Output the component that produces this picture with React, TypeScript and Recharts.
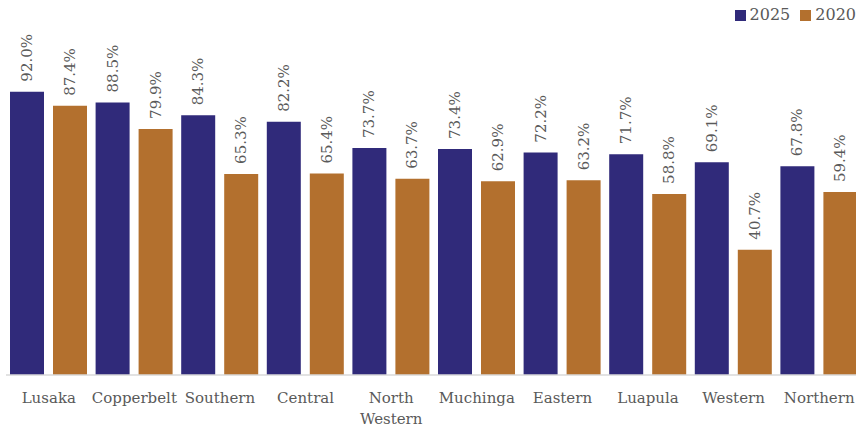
import { BarChart, Bar, XAxis, YAxis, Legend, LabelList } from 'recharts'

const provinces = ['Lusaka', 'Copperbelt', 'Southern', 'Central', 'North Western', 'Muchinga', 'Eastern', 'Luapula', 'Western', 'Northern']
const rate2025 = [92.0, 88.5, 84.3, 82.2, 73.7, 73.4, 72.2, 71.7, 69.1, 67.8]
const rate2020 = [87.4, 79.9, 65.3, 65.4, 63.7, 62.9, 63.2, 58.8, 40.7, 59.4]

const data = provinces.map((name, i) => ({ name, y2025: rate2025[i], y2020: rate2020[i] }))

const FONT = '"DejaVu Serif", serif'
const GREY = '#595959'

const renderValue = (props: any) => {
  const { x, y, width, value } = props
  const cx = x + width / 2
  const cy = y - 10
  return (
    <text
      x={cx}
      y={cy}
      transform={`rotate(-90, ${cx}, ${cy})`}
      textAnchor="start"
      dominantBaseline="central"
      fill={GREY}
      fontSize={15}
      fontFamily={FONT}
    >
      {Number(value).toFixed(1)}%
    </text>
  )
}

const ProvinceTick = (props: any) => {
  const { x, y, payload } = props
  const lines = payload.value.length > 10 ? payload.value.split(' ') : [payload.value]
  return (
    <text x={x} y={y + 20} textAnchor="middle" fill={GREY} fontSize={15} fontFamily={FONT}>
      {lines.map((l: string, i: number) => (
        <tspan key={i} x={x} dy={i === 0 ? 0 : 21}>{l}</tspan>
      ))}
    </text>
  )
}

export default function App() {
  return (
    <div style={{ position: 'absolute', left: 0, top: 0, width: 856, height: 427, overflow: 'hidden', background: '#fff' }}>
      <BarChart
        width={862}
        height={427}
        data={data}
        margin={{ top: 48, right: 0, left: 6, bottom: 0 }}
        barSize={34}
        barGap={9}
      >
        <XAxis
          dataKey="name"
          axisLine={{ stroke: '#d9d9d9', strokeWidth: 1.5 }}
          tickLine={false}
          tick={<ProvinceTick />}
          interval={0}
          height={52}
        />
        <YAxis hide domain={[0, 100]} />
        <Legend
          verticalAlign="top"
          align="right"
          iconType="square"
          iconSize={11}
          itemSorter={null}
          wrapperStyle={{ top: 5, right: -4, fontFamily: FONT, fontSize: 16 }}
          formatter={(v) => <span style={{ color: GREY }}>{v}</span>}
        />
        <Bar dataKey="y2025" name="2025" fill="#302A7A" isAnimationActive={false}>
          <LabelList dataKey="y2025" content={renderValue} />
        </Bar>
        <Bar dataKey="y2020" name="2020" fill="#B3702E" isAnimationActive={false}>
          <LabelList dataKey="y2020" content={renderValue} />
        </Bar>
      </BarChart>
    </div>
  )
}
